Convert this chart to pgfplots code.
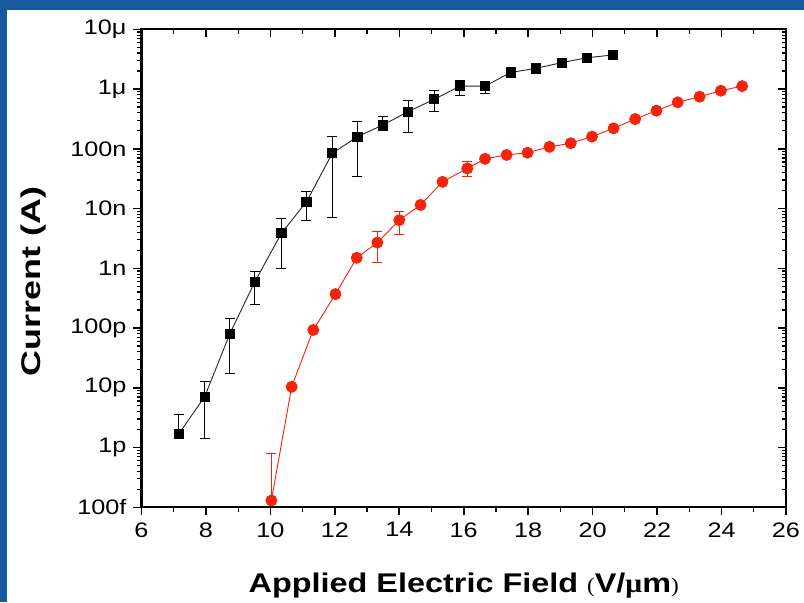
\documentclass[border=0pt]{standalone}
\usepackage{fontspec}
\setmainfont{Liberation Sans}[FakeStretch=1.2]
\newfontfamily\serif{Liberation Serif}[FakeStretch=1.1]
\usepackage{pgfplots}
\pgfplotsset{compat=1.18}
\usepackage{pgfplotstable}
\definecolor{slideblue}{RGB}{24,88,158}
\definecolor{ptred}{RGB}{245,35,10}

% x, current, error plus, error minus
\pgfplotstableread{
x y ep em
7.16 1.7e-12 1.9e-12 0
7.96 7.1e-12 5.5e-12 5.67e-12
8.74 8.0e-11 6.4e-11 6.25e-11
9.52 6.0e-10 2.8e-10 3.5e-10
10.34 3.85e-9 2.95e-9 2.86e-9
11.12 1.3e-8 6.7e-9 6.6e-9
11.92 8.4e-8 7.6e-8 7.69e-8
12.70 1.6e-7 1.24e-7 1.26e-7
13.49 2.5e-7 1.0e-7 4.6e-8
14.27 4.18e-7 2.22e-7 2.27e-7
15.08 6.73e-7 2.67e-7 2.43e-7
15.88 1.12e-6 2.6e-7 3.3e-7
16.66 1.12e-6 2.2e-7 2.6e-7
17.46 1.9e-6 2.0e-7 3.3e-7
18.24 2.22e-6 0 0
19.04 2.77e-6 0 0
19.83 3.35e-6 0 0
20.63 3.72e-6 0 0
}\blackdata

\pgfplotstableread{
x y ep em
10.03 1.3e-13 6.7e-13 0
10.66 1.04e-11 0 0
11.33 9.3e-11 0 0
12.02 3.7e-10 0 0
12.68 1.5e-9 0 0
13.32 2.7e-9 1.5e-9 1.44e-9
14.00 6.4e-9 2.7e-9 2.7e-9
14.66 1.15e-8 0 0
15.34 2.8e-8 0 0
16.11 4.7e-8 1.4e-8 1.2e-8
16.66 6.8e-8 0 0
17.33 7.9e-8 0 0
17.98 8.6e-8 0 0
18.66 1.08e-7 0 0
19.32 1.24e-7 0 0
19.98 1.6e-7 0 0
20.65 2.2e-7 0 0
21.32 3.15e-7 0 0
21.98 4.35e-7 0 0
22.64 6.0e-7 0 0
23.32 7.45e-7 0 0
23.98 9.37e-7 0 0
24.64 1.12e-6 0 0
}\reddata

\pgfplotsset{
  ivframe/.style={
    at={(70.75pt,47.35pt)}, anchor=south west,
    scale only axis, width=322.25pt, height=239pt,
    xmin=6, xmax=26, ymin=1e-13, ymax=1e-5,
    xtick={6,8,...,26}, minor xtick={7,9,...,25},
    ytick={1e-13,1e-12,1e-11,1e-10,1e-9,1e-8,1e-7,1e-6,1e-5},
    axis line style={line width=1pt},
    major tick style={line width=0.8pt, black},
    minor tick style={line width=0.6pt, black},
    major tick length=4pt, minor tick length=2.2pt,
  },
}

\begin{document}
\begin{tikzpicture}
\useasboundingbox (0,0) rectangle (402pt,301pt);
\fill[slideblue] (0,0) rectangle (402pt,301pt);
\fill[white] (3.5pt,0) rectangle (402pt,296pt);

% top and right ticks point inward
\begin{semilogyaxis}[ivframe,
  xtick pos=top, ytick pos=right, tick align=inside,
  xticklabels={}, yticklabels={},
]
\end{semilogyaxis}

\begin{semilogyaxis}[ivframe,
  xtick pos=bottom, ytick pos=left, tick align=outside,
  yticklabels={100f,1p,10p,100p,1n,10n,100n,1μ,10μ},
  /pgf/number format/assume math mode=true,
  tick label style={font=\fontsize{10.5}{12}\selectfont},
  xlabel={Applied Electric Field {\serif\mdseries\fontsize{10.5}{12}\selectfont(}V/{\serif μ}m{\serif\mdseries\fontsize{10.5}{12}\selectfont)}},
  ylabel={\addfontfeature{FakeStretch=1.33}Current (A)},
  label style={font=\bfseries\fontsize{13.5}{15}\selectfont},
  xlabel style={at={(axis description cs:0.5,-0.179)}, anchor=base},
  ylabel style={at={(axis description cs:-0.168,0.472)}, anchor=center},
  clip=true,
]
% error bars
\addplot[draw=none, forget plot,
  error bars/.cd, y dir=both, y explicit,
  error bar style={draw=black, line width=0.45pt},
  error mark options={draw=black, rotate=90, mark size=2.5pt, line width=0.45pt}]
  table[x=x, y=y, y error plus=ep, y error minus=em] {\blackdata};
\addplot[draw=none, forget plot,
  error bars/.cd, y dir=both, y explicit,
  error bar style={draw=ptred, line width=0.45pt},
  error mark options={draw=ptred, rotate=90, mark size=2.5pt, line width=0.45pt}]
  table[x=x, y=y, y error plus=ep, y error minus=em] {\reddata};
% series
\addplot[black!85, line width=0.45pt, mark=square*,
  mark options={solid, fill=black, draw=black, mark size=2.3pt}]
  table[x=x, y=y] {\blackdata};
\addplot[ptred, line width=0.45pt, mark=*,
  mark options={solid, fill=ptred, draw=ptred, mark size=2.75pt}]
  table[x=x, y=y] {\reddata};
\end{semilogyaxis}
\end{tikzpicture}
\end{document}
